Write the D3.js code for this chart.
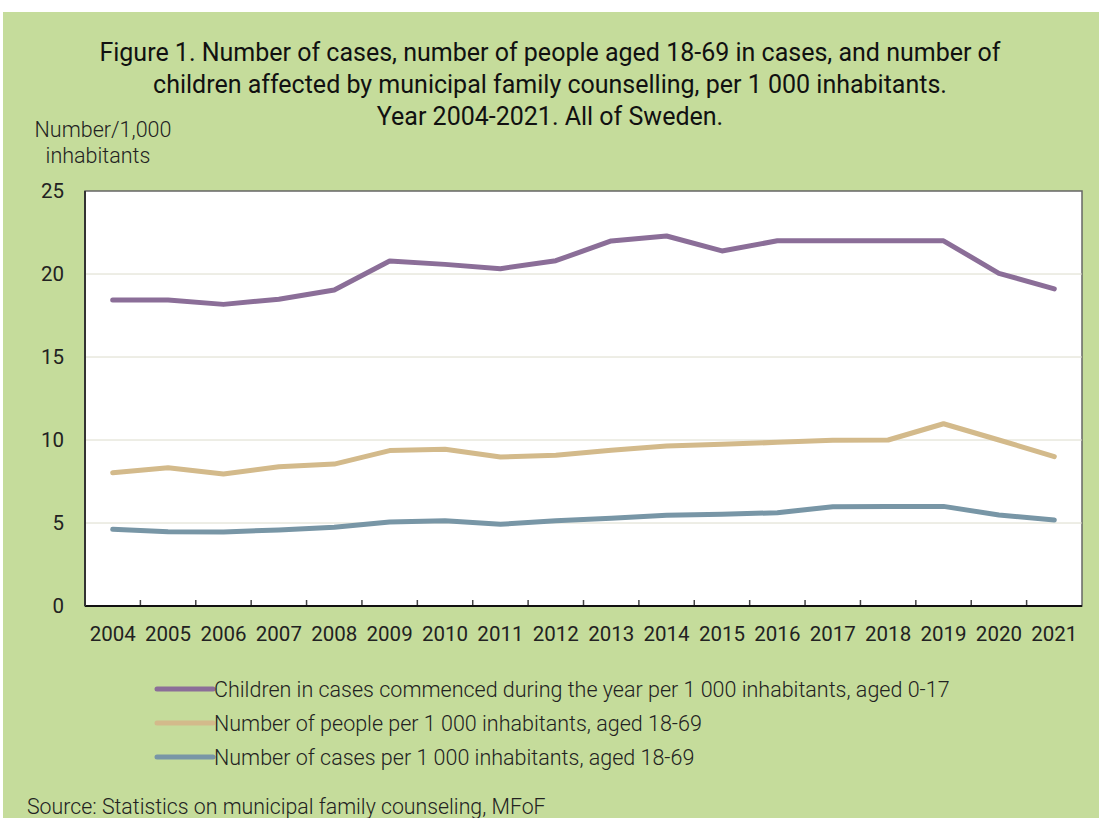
<!DOCTYPE html>
<html>
<head>
<meta charset="utf-8">
<script src="https://cdn.jsdelivr.net/npm/d3@7"></script>
<style>
  body { margin: 0; background: #fff; }
  svg { display: block; font-family: Roboto, sans-serif; }
</style>
</head>
<body>
<div id="chart"></div>
<script>
const years = d3.range(2004, 2022).map(String);
const yTicks = [0, 5, 10, 15, 20, 25];

const children = [18.43, 18.43, 18.17, 18.48, 19.04, 20.78, 20.58, 20.32, 20.8, 21.99,
  22.29, 21.39, 22.0, 22.0, 22.0, 22.0, 20.04, 19.1];
const people = [8.03, 8.33, 7.95, 8.39, 8.55, 9.36, 9.44, 8.98, 9.08, 9.38,
  9.64, 9.74, 9.86, 9.98, 10.0, 10.98, 10.0, 9.0];
const cases = [4.62, 4.48, 4.46, 4.58, 4.74, 5.06, 5.14, 4.92, 5.14, 5.28,
  5.46, 5.52, 5.62, 5.98, 6.0, 6.0, 5.48, 5.18];

const seriesNames = [
  "Children in cases commenced during the year per 1 000 inhabitants, aged 0-17",
  "Number of people per 1 000 inhabitants, aged 18-69",
  "Number of cases per 1 000 inhabitants, aged 18-69"
];
const seriesColors = ["#8b6e98", "#d3ba8b", "#7896a6"];
const series = [children, people, cases];

const width = 1099, height = 818;
const plot = {left: 85, right: 1082, top: 191, bottom: 606};

const svg = d3.select("#chart")
  .append("svg")
  .attr("width", width)
  .attr("height", height);

// green panel
svg.append("rect")
  .attr("x", 3).attr("y", 12)
  .attr("width", width - 3).attr("height", height - 12)
  .attr("fill", "#c5dc9b");

// title
const titleLines = [
  "Figure 1. Number of cases, number of people aged 18-69 in cases, and number of",
  "children affected by municipal family counselling, per 1 000 inhabitants.",
  "Year 2004-2021. All of Sweden."
];
svg.selectAll("text.title")
  .data(titleLines)
  .join("text")
    .attr("class", "title")
    .attr("x", 550)
    .attr("y", (d, i) => 61 + i * 32)
    .attr("text-anchor", "middle")
    .style("font-size", "25px")
    .style("fill", "#111")
    .text(d => d);

// y label
svg.append("text")
  .attr("x", 103).attr("y", 137)
  .attr("text-anchor", "middle")
  .style("font-size", "21.5px")
  .style("font-weight", 300)
  .style("fill", "#222")
  .text("Number/1,000");
svg.append("text")
  .attr("x", 98).attr("y", 163)
  .attr("text-anchor", "middle")
  .style("font-size", "21.5px")
  .style("font-weight", 300)
  .style("fill", "#222")
  .text("inhabitants");

// scales
const xScale = d3.scaleBand()
  .domain(years)
  .range([plot.left, plot.right]);
const yScale = d3.scaleLinear()
  .domain([0, 25])
  .range([plot.bottom, plot.top]);
const cx = d => xScale(d) + xScale.bandwidth() / 2;

// plot background
svg.append("rect")
  .attr("x", plot.left).attr("y", plot.top)
  .attr("width", plot.right - plot.left)
  .attr("height", plot.bottom - plot.top)
  .attr("fill", "#fff")
  .attr("stroke", "#666")
  .attr("stroke-width", 1.5);

// gridlines
svg.selectAll("line.grid")
  .data(yTicks.filter(t => t > 0 && t < 25))
  .join("line")
    .attr("class", "grid")
    .attr("x1", plot.left).attr("x2", plot.right)
    .attr("y1", d => yScale(d)).attr("y2", d => yScale(d))
    .attr("stroke", "#dcdccc")
    .attr("stroke-width", 1);

// y tick labels
svg.selectAll("text.ytick")
  .data(yTicks)
  .join("text")
    .attr("class", "ytick")
    .attr("x", 64)
    .attr("y", d => yScale(d))
    .attr("dy", "0.35em")
    .attr("text-anchor", "end")
    .style("font-size", "20.5px")
    .style("fill", "#222")
    .text(d => d);

// x ticks (between categories, pointing up)
svg.selectAll("line.xtick")
  .data(years.slice(1))
  .join("line")
    .attr("class", "xtick")
    .attr("x1", d => xScale(d)).attr("x2", d => xScale(d))
    .attr("y1", plot.bottom).attr("y2", plot.bottom - 6)
    .attr("stroke", "#444")
    .attr("stroke-width", 1.5);

// x tick labels
svg.selectAll("text.xlab")
  .data(years)
  .join("text")
    .attr("class", "xlab")
    .attr("x", d => cx(d))
    .attr("y", 641)
    .attr("text-anchor", "middle")
    .style("font-size", "20.5px")
    .style("fill", "#222")
    .text(d => d);

// axis lines
svg.append("line")
  .attr("x1", plot.left).attr("x2", plot.right)
  .attr("y1", plot.bottom).attr("y2", plot.bottom)
  .attr("stroke", "#111").attr("stroke-width", 2);
svg.append("line")
  .attr("x1", plot.left).attr("x2", plot.left)
  .attr("y1", plot.top).attr("y2", plot.bottom)
  .attr("stroke", "#333").attr("stroke-width", 2);

// lines
const line = d3.line()
  .x((d, i) => cx(years[i]))
  .y(d => yScale(d));

svg.selectAll("path.series")
  .data(series)
  .join("path")
    .attr("class", "series")
    .attr("d", d => line(d))
    .attr("fill", "none")
    .attr("stroke", (d, i) => seriesColors[i])
    .attr("stroke-width", 5)
    .attr("stroke-linecap", "round")
    .attr("stroke-linejoin", "round");

// legend
const legend = svg.selectAll("g.legend")
  .data(seriesNames)
  .join("g")
    .attr("class", "legend")
    .attr("transform", (d, i) => `translate(157,${689 + i * 34})`);
legend.append("line")
  .attr("x1", 0).attr("x2", 56)
  .attr("stroke", (d, i) => seriesColors[i])
  .attr("stroke-width", 5)
  .attr("stroke-linecap", "round");
legend.append("text")
  .attr("x", 57)
  .attr("dy", "0.35em")
  .style("font-size", "21.5px")
  .style("font-weight", 300)
  .style("fill", "#222")
  .text(d => d);

// source
svg.append("text")
  .attr("x", 27).attr("y", 814)
  .style("font-size", "21.3px")
  .style("font-weight", 300)
  .style("fill", "#222")
  .text("Source: Statistics on municipal family counseling, MFoF");
</script>
</body>
</html>
